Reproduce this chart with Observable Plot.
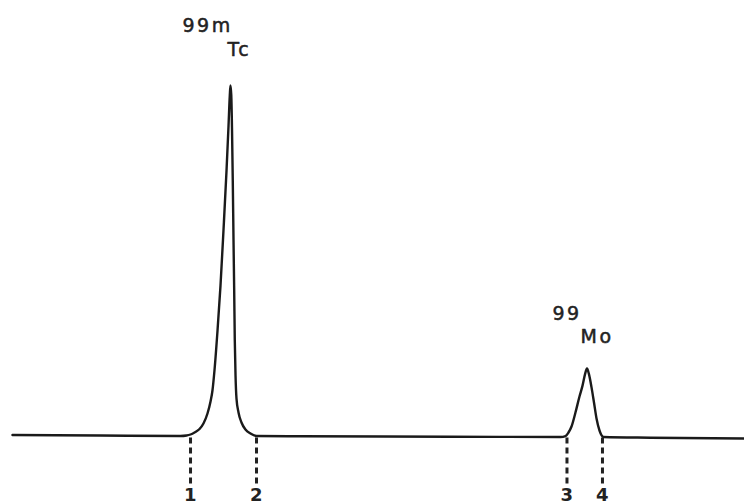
<!DOCTYPE html>
<html>
<head>
<meta charset="utf-8">
<script src="https://cdn.jsdelivr.net/npm/d3@7"></script>
<script src="https://cdn.jsdelivr.net/npm/@observablehq/plot@0.6"></script>
<style>
  html, body { margin: 0; padding: 0; background: #fff; }
  svg text { letter-spacing: 2.5px; }
</style>
</head>
<body>
<div id="chart"></div>
<script>
// Elution trace (arbitrary volume units, relative signal with Tc peak = 100)
const volume = [1.61, 13.44, 24.19, 25.0, 25.54, 26.08, 26.75, 27.28, 27.82, 28.23, 28.49, 28.76, 29.17, 29.57, 29.97, 30.38, 30.65, 30.82, 30.91,
  31.02, 31.12, 31.22, 31.32, 31.41, 31.49, 31.59, 31.72, 31.99, 32.39, 32.93, 33.60, 34.41, 40.32, 60.48, 75.27,
  75.94, 76.34, 76.75, 77.28, 77.82, 78.23, 78.56, 78.83, 79.10, 79.44, 79.77, 80.11, 80.51, 81.05, 87.37, 100];
const signal = [0.43, 0.28, 0.14, 0.28, 0.57, 1.14, 2.14, 3.70, 6.55, 9.97, 13.1, 18.8, 30.2, 43.0, 58.7, 75.8, 88.6, 97.2, 100,
  97.2, 87.2, 72.9, 55.8, 41.6, 27.4, 17.4, 10.8, 6.84, 3.99, 1.99, 0.85, 0.14, 0.06, -0.06, -0.14,
  0.14, 1.14, 2.85, 6.84, 11.4, 14.5, 17.7, 19.4, 17.7, 14.0, 9.69, 5.13, 1.71, -0.14, -0.34, -0.57];

// Fraction cut markers
const cutLabels = ["1", "2", "3", "4"];
const cutVolume = [25.54, 34.41, 76.14, 80.91];

// Peak labels: mass number (upper line) and element (lower line)
const massLabels = ["99m", "99"];
const massVolume = [24.46, 74.19];
const massSignal = [115.1, 33.3];
const elementLabels = ["Tc", "Mo"];
const elementVolume = [30.51, 77.96];
const elementSignal = [108.5, 26.5];

const trace = volume.map((v, i) => ({v, s: signal[i]}));
const cuts = cutLabels.map((l, i) => ({l, v: cutVolume[i]}));
const masses = massLabels.map((t, i) => ({t, v: massVolume[i], s: massSignal[i]}));
const elements = elementLabels.map((t, i) => ({t, v: elementVolume[i], s: elementSignal[i]}));

const chart = Plot.plot({
  width: 744,
  height: 504,
  margin: 0,
  style: {background: "#fff", fontFamily: "DejaVu Sans", color: "#222"},
  x: {domain: [0, 100], range: [0, 744], axis: null},
  y: {domain: [0, 100], range: [436, 85], axis: null},
  marks: [
    Plot.ruleX(cuts, {x: "v", y1: -0.4, y2: -14.4, stroke: "#222", strokeWidth: 3, strokeDasharray: "6,4"}),
    Plot.line(trace, {x: "v", y: "s", stroke: "#1a1a1a", strokeWidth: 2.4, curve: "monotone-x"}),
    Plot.text(cuts, {x: "v", y: -14.8, text: "l", lineAnchor: "top", fontSize: 18, fontWeight: "bold", fill: "#222", dx: 1}),
    Plot.text(masses, {x: "v", y: "s", text: "t", textAnchor: "start", lineAnchor: "bottom", fontSize: 19, fill: "#222", stroke: "#222", strokeWidth: 0.5}),
    Plot.text(elements, {x: "v", y: "s", text: "t", textAnchor: "start", lineAnchor: "bottom", fontSize: 19, fill: "#222", stroke: "#222", strokeWidth: 0.5})
  ]
});
document.getElementById("chart").appendChild(chart);
</script>
</body>
</html>
